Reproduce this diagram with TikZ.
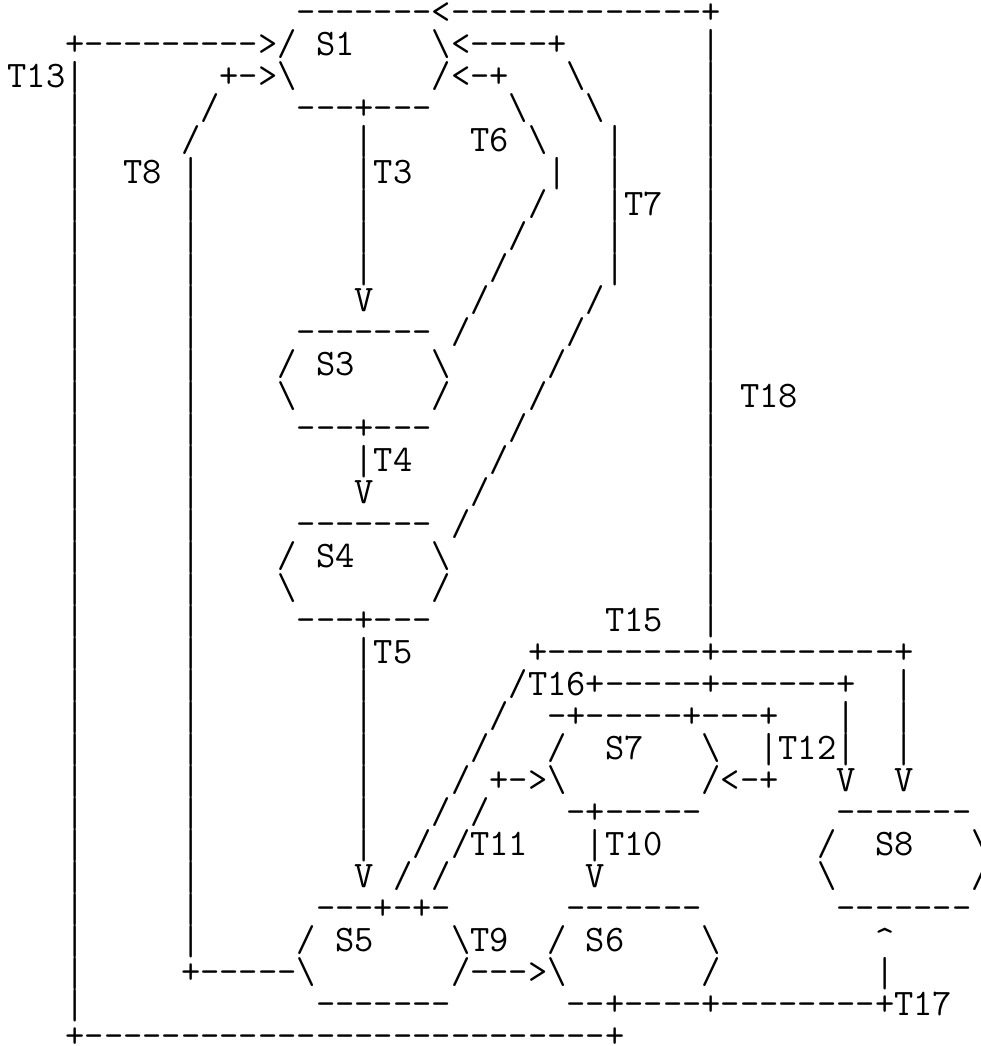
\documentclass[tikz,border=0pt]{standalone}
\usepackage{fontspec}
\usepackage{graphicx}
\newcommand\bsl{\textbackslash}
\newcommand\crt{\textasciicircum}
\newcommand\sk[1]{\kern\dimexpr#1\fontdimen2\font\relax}
\newcommand\vb{\raisebox{-3.4pt}[0pt][0pt]{\resizebox*{\width}{16.3pt}{\raisebox{\depth}{|}}}}
\tikzset{asc/.style={anchor=base west,inner sep=0pt,outer sep=0pt,text=black,
  font=\fontsize{18.716pt}{18.716pt}\selectfont\ttfamily}}
\newcommand\asciirow[2]{\node[asc] (row#1) at (3.8125pt,{-11.5pt-16pt*#1}) {#2};}
\begin{document}
\begin{tikzpicture}
\useasboundingbox (0,0) rectangle (490.5pt,-523pt);
\asciirow{0}{\sk{15}-------<-------------+}
\asciirow{1}{\sk{3}+--------->/\sk{1}S1\sk{4}\bsl<----+\sk{7}\vb}
\asciirow{2}{T13\vb\sk{7}+->\bsl\sk{7}/<-+\sk{3}\bsl\sk{6}\vb}
\asciirow{3}{\sk{3}\vb\sk{6}/\sk{4}---+---\sk{4}\bsl\sk{3}\bsl\sk{5}\vb}
\asciirow{4}{\sk{3}\vb\sk{5}/\sk{8}\vb\sk{5}T6\sk{1}\bsl\sk{3}\vb\sk{4}\vb}
\asciirow{5}{\sk{3}\vb\sk{2}T8\sk{1}\vb\sk{8}\vb{}T3\sk{7}\vb\sk{2}\vb\sk{4}\vb}
\asciirow{6}{\sk{3}\vb\sk{5}\vb\sk{8}\vb\sk{8}/\sk{3}\vb{}T7\sk{2}\vb}
\asciirow{7}{\sk{3}\vb\sk{5}\vb\sk{8}\vb\sk{7}/\sk{4}\vb\sk{4}\vb}
\asciirow{8}{\sk{3}\vb\sk{5}\vb\sk{8}\vb\sk{6}/\sk{5}\vb\sk{4}\vb}
\asciirow{9}{\sk{3}\vb\sk{5}\vb\sk{8}V\sk{5}/\sk{5}/\sk{5}\vb}
\asciirow{10}{\sk{3}\vb\sk{5}\vb\sk{5}-------\sk{1}/\sk{5}/\sk{6}\vb}
\asciirow{11}{\sk{3}\vb\sk{5}\vb\sk{4}/\sk{1}S3\sk{4}\bsl\sk{5}/\sk{7}\vb}
\asciirow{12}{\sk{3}\vb\sk{5}\vb\sk{4}\bsl\sk{7}/\sk{4}/\sk{8}\vb\sk{1}T18}
\asciirow{13}{\sk{3}\vb\sk{5}\vb\sk{5}---+---\sk{4}/\sk{9}\vb}
\asciirow{14}{\sk{3}\vb\sk{5}\vb\sk{8}\vb{}T4\sk{4}/\sk{10}\vb}
\asciirow{15}{\sk{3}\vb\sk{5}\vb\sk{8}V\sk{5}/\sk{11}\vb}
\asciirow{16}{\sk{3}\vb\sk{5}\vb\sk{5}-------\sk{1}/\sk{12}\vb}
\asciirow{17}{\sk{3}\vb\sk{5}\vb\sk{4}/\sk{1}S4\sk{4}\bsl\sk{13}\vb}
\asciirow{18}{\sk{3}\vb\sk{5}\vb\sk{4}\bsl\sk{7}/\sk{13}\vb}
\asciirow{19}{\sk{3}\vb\sk{5}\vb\sk{5}---+---\sk{9}T15\sk{2}\vb}
\asciirow{20}{\sk{3}\vb\sk{5}\vb\sk{8}\vb{}T5\sk{6}+--------+---------+}
\asciirow{21}{\sk{3}\vb\sk{5}\vb\sk{8}\vb\sk{7}/T16+-----+------+\sk{2}\vb}
\asciirow{22}{\sk{3}\vb\sk{5}\vb\sk{8}\vb\sk{6}/\sk{2}-+-----+---+\sk{3}\vb\sk{2}\vb}
\asciirow{23}{\sk{3}\vb\sk{5}\vb\sk{8}\vb\sk{5}/\sk{3}/\sk{2}S7\sk{3}\bsl\sk{2}\vb{}T12\vb\sk{2}\vb}
\asciirow{24}{\sk{3}\vb\sk{5}\vb\sk{8}\vb\sk{4}/\sk{1}+->\bsl\sk{7}/<-+\sk{3}V\sk{2}V}
\asciirow{25}{\sk{3}\vb\sk{5}\vb\sk{8}\vb\sk{3}/\sk{1}/\sk{4}-+-----\sk{7}-------}
\asciirow{26}{\sk{3}\vb\sk{5}\vb\sk{8}\vb\sk{2}/\sk{1}/T11\sk{3}\vb{}T10\sk{8}/\sk{2}S8\sk{3}\bsl}
\asciirow{27}{\sk{3}\vb\sk{5}\vb\sk{8}V\sk{1}/\sk{1}/\sk{7}V\sk{11}\bsl\sk{7}/}
\asciirow{28}{\sk{3}\vb\sk{5}\vb\sk{6}---+-+-\sk{6}-------\sk{7}-------}
\asciirow{29}{\sk{3}\vb\sk{5}\vb\sk{5}/\sk{1}S5\sk{4}\bsl T9\sk{2}/\sk{1}S6\sk{4}\bsl\sk{8}\crt}
\asciirow{30}{\sk{3}\vb\sk{5}+-----\bsl\sk{7}/--->\bsl\sk{7}/\sk{8}\vb}
\asciirow{31}{\sk{3}\vb\sk{12}-------\sk{6}--+----+--------+T17}
\asciirow{32}{\sk{3}+---------------------------+}
\end{tikzpicture}
\end{document}
